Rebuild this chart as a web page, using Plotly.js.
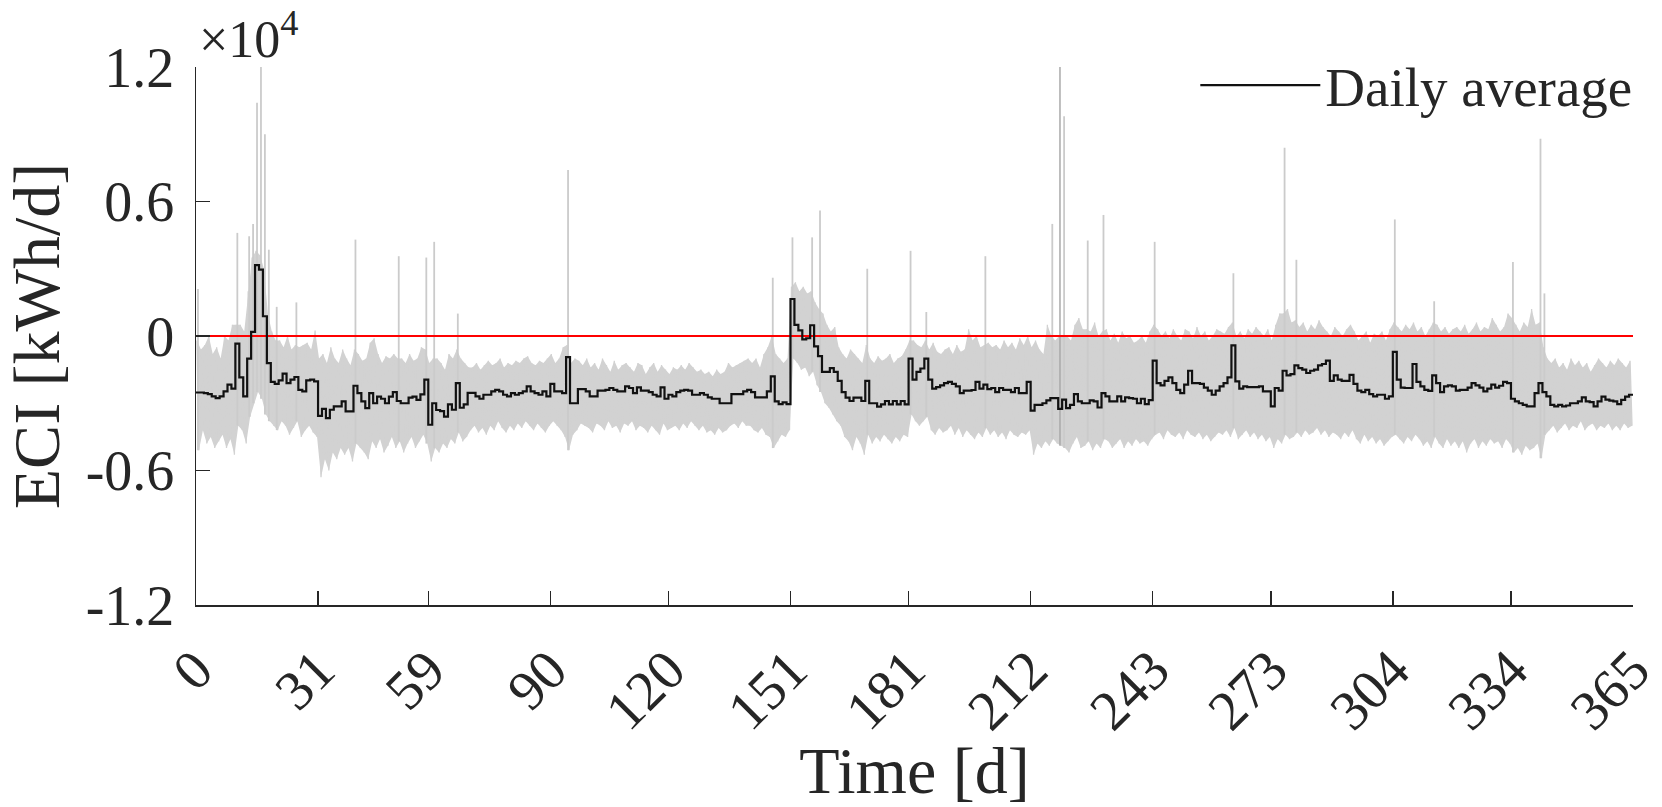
<!DOCTYPE html>
<html><head><meta charset="utf-8">
<script src="https://cdn.plot.ly/plotly-3.0.1.min.js"></script>
<style>html,body{margin:0;padding:0;background:#fff;}#chart{width:1662px;height:807px;}</style>
</head><body><div id="chart"></div>
<script>
// Daily average ECI (x10^4 kWh/d), one value per day 0..364
const dailyAvg = [
-0.252,-0.252,-0.255,-0.259,-0.269,-0.277,-0.269,-0.247,-0.217,-0.235,
-0.034,-0.185,-0.269,-0.101,0.018,0.316,0.296,0.088,-0.121,-0.205,
-0.214,-0.198,-0.168,-0.21,-0.195,-0.183,-0.24,-0.247,-0.198,-0.195,
-0.202,-0.356,-0.325,-0.366,-0.329,-0.314,-0.314,-0.292,-0.336,-0.336,
-0.222,-0.255,-0.292,-0.322,-0.255,-0.30,-0.27,-0.28,-0.30,-0.27,
-0.25,-0.29,-0.30,-0.30,-0.275,-0.27,-0.285,-0.26,-0.195,-0.396,
-0.30,-0.33,-0.335,-0.36,-0.305,-0.329,-0.21,-0.32,-0.305,-0.254,
-0.254,-0.269,-0.28,-0.262,-0.262,-0.247,-0.24,-0.247,-0.262,-0.269,
-0.255,-0.262,-0.255,-0.247,-0.225,-0.247,-0.255,-0.262,-0.247,-0.269,
-0.214,-0.247,-0.247,-0.255,-0.094,-0.30,-0.30,-0.237,-0.237,-0.247,
-0.269,-0.269,-0.244,-0.244,-0.24,-0.232,-0.24,-0.247,-0.247,-0.225,
-0.232,-0.255,-0.229,-0.244,-0.244,-0.25,-0.262,-0.269,-0.229,-0.28,
-0.262,-0.269,-0.25,-0.244,-0.24,-0.244,-0.262,-0.262,-0.255,-0.262,
-0.274,-0.28,-0.28,-0.30,-0.30,-0.30,-0.259,-0.259,-0.259,-0.247,
-0.24,-0.25,-0.274,-0.274,-0.274,-0.247,-0.18,-0.292,-0.304,-0.296,
-0.304,0.165,0.05,0.025,-0.015,-0.01,0.048,-0.046,-0.09,-0.16,
-0.16,-0.143,-0.16,-0.2,-0.25,-0.275,-0.29,-0.275,-0.275,-0.29,
-0.2,-0.30,-0.30,-0.315,-0.305,-0.29,-0.305,-0.29,-0.305,-0.29,
-0.305,-0.101,-0.195,-0.16,-0.145,-0.101,-0.195,-0.235,-0.228,-0.22,
-0.21,-0.205,-0.214,-0.225,-0.255,-0.244,-0.244,-0.241,-0.205,-0.235,
-0.217,-0.237,-0.232,-0.25,-0.232,-0.24,-0.24,-0.25,-0.232,-0.255,
-0.255,-0.205,-0.333,-0.307,-0.307,-0.30,-0.287,-0.277,-0.277,-0.325,
-0.284,-0.322,-0.307,-0.259,-0.292,-0.30,-0.30,-0.287,-0.292,-0.319,
-0.255,-0.269,-0.292,-0.292,-0.269,-0.292,-0.274,-0.277,-0.28,-0.30,
-0.28,-0.304,-0.286,-0.11,-0.21,-0.22,-0.20,-0.185,-0.21,-0.24,
-0.255,-0.217,-0.155,-0.21,-0.21,-0.214,-0.23,-0.244,-0.262,-0.244,
-0.225,-0.21,-0.185,-0.042,-0.202,-0.235,-0.225,-0.228,-0.228,-0.228,
-0.225,-0.247,-0.247,-0.314,-0.232,-0.244,-0.155,-0.176,-0.17,-0.131,
-0.143,-0.15,-0.165,-0.155,-0.15,-0.131,-0.125,-0.11,-0.2,-0.176,
-0.195,-0.2,-0.2,-0.173,-0.214,-0.244,-0.25,-0.24,-0.259,-0.269,
-0.262,-0.262,-0.28,-0.269,-0.071,-0.195,-0.23,-0.232,-0.232,-0.125,
-0.205,-0.225,-0.24,-0.245,-0.176,-0.21,-0.25,-0.225,-0.22,-0.225,
-0.244,-0.24,-0.24,-0.23,-0.21,-0.22,-0.23,-0.247,-0.235,-0.217,
-0.23,-0.222,-0.205,-0.21,-0.28,-0.292,-0.30,-0.307,-0.314,-0.314,
-0.255,-0.21,-0.25,-0.269,-0.307,-0.314,-0.307,-0.314,-0.31,-0.30,
-0.30,-0.292,-0.274,-0.292,-0.295,-0.314,-0.292,-0.27,-0.284,-0.288,
-0.292,-0.304,-0.285,-0.27,-0.262
];
// Upper edge of the bulk of sub-daily values, per day (x10^4 kWh/d)
const subDailyHigh = [
-0.02,-0.06,-0.04,0.0,-0.08,-0.05,-0.1,0.0,-0.02,0.05,
0.05,0.05,0.02,0.2,0.35,0.38,0.36,0.3,0.1,0.02,
-0.02,-0.02,-0.05,0.0,-0.06,-0.04,-0.05,-0.04,-0.03,-0.06,
0.025,-0.1,-0.08,-0.12,-0.05,-0.1,-0.12,-0.06,-0.1,-0.13,
-0.06,-0.08,-0.11,-0.1,-0.03,-0.01,-0.08,-0.12,-0.09,-0.1,
-0.08,-0.1,-0.1,-0.12,-0.08,-0.11,-0.1,-0.05,-0.06,-0.12,
-0.1,-0.1,-0.12,-0.15,-0.08,-0.1,-0.06,-0.1,-0.12,-0.14,
-0.14,-0.12,-0.15,-0.13,-0.11,-0.13,-0.12,-0.1,-0.14,-0.12,
-0.13,-0.11,-0.12,-0.1,-0.09,-0.12,-0.13,-0.11,-0.12,-0.1,
-0.08,-0.12,-0.1,-0.05,-0.04,-0.12,-0.1,-0.11,-0.13,-0.1,
-0.14,-0.12,-0.15,-0.1,-0.13,-0.16,-0.11,-0.15,-0.13,-0.12,
-0.14,-0.16,-0.12,-0.13,-0.17,-0.14,-0.12,-0.16,-0.13,-0.15,
-0.17,-0.14,-0.15,-0.13,-0.15,-0.12,-0.14,-0.16,-0.15,-0.17,
-0.16,-0.18,-0.15,-0.17,-0.16,-0.12,-0.14,-0.13,-0.12,-0.11,
-0.1,-0.12,-0.1,-0.14,-0.08,-0.05,0.0,-0.08,-0.1,-0.12,
-0.1,0.22,0.24,0.2,0.22,0.19,0.2,0.15,0.12,0.1,
0.05,0.02,0.04,-0.05,-0.08,-0.1,-0.06,-0.08,-0.1,-0.12,
-0.04,-0.1,-0.12,-0.09,-0.11,-0.1,-0.08,-0.12,-0.1,-0.09,
-0.06,-0.02,-0.02,-0.04,-0.05,-0.02,-0.06,-0.03,-0.07,-0.08,
-0.06,-0.05,-0.08,-0.04,-0.07,-0.06,0.03,-0.02,0.0,-0.05,
-0.04,-0.03,-0.05,-0.04,-0.06,-0.02,-0.05,-0.03,-0.06,-0.01,
-0.04,0.0,-0.05,-0.02,-0.06,-0.08,0.05,0.0,-0.02,0.0,
0.0,0.0,-0.02,0.05,0.08,0.03,0.03,0.02,0.06,0.0,
0.02,0.03,-0.02,0.01,-0.03,0.02,-0.01,0.0,-0.03,-0.02,
0.0,-0.03,0.02,0.05,0.03,0.0,0.02,-0.01,0.03,0.0,
-0.02,0.03,0.02,-0.01,0.04,0.0,0.02,-0.02,0.0,0.03,
0.02,0.01,0.04,0.06,0.0,0.02,-0.01,0.03,0.01,0.04,
0.02,0.0,0.03,-0.02,0.05,0.1,0.1,0.12,0.06,0.07,
0.04,0.06,0.02,0.05,0.03,0.07,0.04,0.02,0.0,0.04,
0.02,0.0,0.03,0.05,0.02,-0.02,0.0,0.02,-0.03,0.01,
0.0,0.02,-0.02,0.03,0.06,0.04,0.02,0.05,0.03,0.06,
0.02,0.04,0.0,0.03,0.06,0.05,0.02,0.04,0.01,0.03,
0.04,0.02,0.05,0.01,0.03,0.06,0.02,0.04,0.03,0.08,
0.05,0.02,0.04,0.1,0.08,0.05,0.02,0.06,0.04,0.12,
0.05,0.06,-0.05,-0.1,-0.12,-0.1,-0.14,-0.12,-0.15,-0.1,
-0.13,-0.11,-0.14,-0.12,-0.16,-0.13,-0.1,-0.12,-0.14,-0.11,
-0.13,-0.1,-0.12,-0.14,-0.11
];
// Lower edge of the sub-daily values, per day (x10^4 kWh/d)
const subDailyLow = [
-0.51,-0.42,-0.48,-0.45,-0.5,-0.47,-0.44,-0.5,-0.46,-0.53,
-0.4,-0.42,-0.48,-0.36,-0.3,-0.25,-0.28,-0.35,-0.38,-0.4,
-0.42,-0.38,-0.4,-0.44,-0.41,-0.38,-0.45,-0.42,-0.4,-0.43,
-0.45,-0.63,-0.55,-0.6,-0.52,-0.55,-0.5,-0.53,-0.5,-0.56,
-0.48,-0.5,-0.52,-0.55,-0.47,-0.5,-0.46,-0.52,-0.49,-0.45,
-0.5,-0.47,-0.52,-0.48,-0.45,-0.5,-0.47,-0.44,-0.48,-0.56,
-0.5,-0.52,-0.48,-0.5,-0.46,-0.48,-0.43,-0.47,-0.45,-0.42,
-0.4,-0.43,-0.41,-0.44,-0.4,-0.42,-0.38,-0.41,-0.43,-0.4,
-0.42,-0.39,-0.41,-0.38,-0.4,-0.42,-0.39,-0.41,-0.43,-0.4,
-0.38,-0.4,-0.42,-0.45,-0.51,-0.44,-0.42,-0.39,-0.4,-0.41,
-0.43,-0.39,-0.4,-0.42,-0.38,-0.41,-0.4,-0.43,-0.39,-0.4,
-0.38,-0.42,-0.4,-0.41,-0.43,-0.4,-0.42,-0.44,-0.39,-0.42,
-0.41,-0.4,-0.42,-0.39,-0.41,-0.38,-0.4,-0.42,-0.4,-0.43,
-0.42,-0.44,-0.41,-0.43,-0.42,-0.4,-0.39,-0.41,-0.38,-0.4,
-0.4,-0.42,-0.43,-0.41,-0.44,-0.45,-0.5,-0.47,-0.44,-0.45,
-0.42,-0.1,-0.12,-0.15,-0.14,-0.18,-0.16,-0.22,-0.25,-0.3,
-0.32,-0.35,-0.38,-0.4,-0.45,-0.47,-0.51,-0.45,-0.48,-0.53,
-0.44,-0.48,-0.45,-0.47,-0.44,-0.46,-0.48,-0.45,-0.47,-0.44,
-0.45,-0.35,-0.38,-0.4,-0.38,-0.36,-0.42,-0.44,-0.41,-0.43,
-0.42,-0.4,-0.44,-0.41,-0.45,-0.42,-0.44,-0.46,-0.43,-0.45,
-0.41,-0.44,-0.42,-0.45,-0.43,-0.46,-0.42,-0.44,-0.45,-0.43,
-0.44,-0.42,-0.53,-0.48,-0.5,-0.47,-0.49,-0.46,-0.48,-0.49,
-0.5,-0.52,-0.48,-0.45,-0.5,-0.49,-0.47,-0.51,-0.48,-0.5,
-0.46,-0.47,-0.5,-0.48,-0.46,-0.5,-0.47,-0.49,-0.46,-0.48,
-0.47,-0.49,-0.46,-0.44,-0.43,-0.46,-0.42,-0.44,-0.45,-0.43,
-0.46,-0.42,-0.44,-0.45,-0.43,-0.46,-0.44,-0.47,-0.45,-0.43,
-0.44,-0.42,-0.45,-0.41,-0.46,-0.44,-0.42,-0.45,-0.43,-0.46,
-0.44,-0.47,-0.45,-0.5,-0.46,-0.48,-0.44,-0.46,-0.45,-0.43,
-0.45,-0.42,-0.44,-0.43,-0.41,-0.44,-0.42,-0.45,-0.43,-0.44,
-0.46,-0.43,-0.45,-0.42,-0.46,-0.48,-0.44,-0.47,-0.45,-0.48,
-0.46,-0.49,-0.47,-0.45,-0.44,-0.46,-0.48,-0.45,-0.47,-0.44,
-0.46,-0.49,-0.47,-0.5,-0.45,-0.48,-0.5,-0.46,-0.49,-0.47,
-0.5,-0.47,-0.52,-0.48,-0.46,-0.5,-0.47,-0.49,-0.46,-0.48,
-0.47,-0.5,-0.46,-0.48,-0.52,-0.5,-0.53,-0.49,-0.51,-0.5,
-0.48,-0.545,-0.44,-0.42,-0.4,-0.43,-0.41,-0.39,-0.42,-0.4,
-0.41,-0.38,-0.42,-0.4,-0.39,-0.42,-0.4,-0.41,-0.39,-0.42,
-0.4,-0.42,-0.39,-0.41,-0.4
];
// Isolated sub-daily peaks: day and peak value (x10^4 kWh/d)
const peakDays = [0,10,13,14,15,16,17,18,20,25,40,51,58,60,66,94,146,151,156,158,170,181,185,200,217,220,226,230,243,263,276,279,304,314,334,341,342];
const peakVals = [0.21,0.46,0.445,0.5,1.04,1.25,0.9,0.385,0.13,0.15,0.43,0.356,0.35,0.42,0.1,0.74,0.26,0.44,0.44,0.56,0.3,0.38,0.107,0.356,0.5,0.98,0.426,0.54,0.42,0.28,0.84,0.34,0.52,0.155,0.33,0.88,0.19];
// Outlier hour on day 219 (drawn darker in the original)
const outlierDay = [219.45, 219.45];
const outlierVal = [-0.49, 1.3];
// Zero reference line
const refLineX = [0, 365];
const refLineY = [0, 0];
// Axis ticks
const xTickVals = [0,31,59,90,120,151,181,212,243,273,304,334,365];
const xTickText = ['0','31','59','90','120','151','181','212','243','273','304','334','365'];
const yTickVals = [-1.2,-0.6,0,0.6,1.2];
const yTickText = ['-1.2','-0.6','0','0.6','1.2'];

const FONT = '"Liberation Serif", "Times New Roman", serif';
const INK = '#262626';
const GRAY = '#d2d2d2';

const hx = [], hy = [], lx = [], ly = [], zx = [], zy = [];
for (let d = 0; d < dailyAvg.length; d++) {
  hx.push(d + 0.25); hy.push(subDailyHigh[d]);
  lx.push(d + 0.75); ly.push(subDailyLow[d]);
  zx.push(d + 0.25, d + 0.75); zy.push(subDailyHigh[d], subDailyLow[d]);
}
const px = [], py = [];
peakDays.forEach((d, i) => { px.push(d + 0.5, d + 0.5, null); py.push(subDailyLow[d], peakVals[i], null); });
const sx = [], sy = [];
for (let d = 0; d < dailyAvg.length; d++) { sx.push(d); sy.push(dailyAvg[d]); }
sx.push(dailyAvg.length); sy.push(dailyAvg[dailyAvg.length - 1]);

const traces = [
  {x: hx, y: hy, type: 'scatter', mode: 'lines', line: {color: GRAY, width: 0}, showlegend: false, hoverinfo: 'skip'},
  {x: lx, y: ly, type: 'scatter', mode: 'lines', line: {color: GRAY, width: 0}, fill: 'tonexty', fillcolor: GRAY, showlegend: false, hoverinfo: 'skip'},
  {x: zx, y: zy, type: 'scatter', mode: 'lines', line: {color: GRAY, width: 1.3}, showlegend: false, hoverinfo: 'skip'},
  {x: px, y: py, type: 'scatter', mode: 'lines', line: {color: '#cbcbcb', width: 1.8}, connectgaps: false, showlegend: false, hoverinfo: 'skip'},
  {x: outlierDay, y: outlierVal, type: 'scatter', mode: 'lines', line: {color: '#a9a9a9', width: 1.5}, showlegend: false, hoverinfo: 'skip'},
  {x: refLineX, y: refLineY, type: 'scatter', mode: 'lines', line: {color: '#ff0000', width: 2}, showlegend: false, hoverinfo: 'skip'},
  {x: sx, y: sy, type: 'scatter', mode: 'lines', line: {color: '#111111', width: 2.2, shape: 'hv'}, name: 'Daily average', showlegend: true}
];

const layout = {
  width: 1662, height: 807,
  margin: {l: 196, r: 29, t: 67, b: 202, pad: 0},
  paper_bgcolor: '#ffffff', plot_bgcolor: '#ffffff',
  font: {family: FONT, color: INK, size: 54},
  showlegend: true,
  legend: {x: 1.003, xanchor: 'right', y: 1.045, yanchor: 'top', bgcolor: 'rgba(0,0,0,0)', borderwidth: 0,
           font: {family: FONT, size: 55, color: INK}, itemwidth: 120, tracegroupgap: 0},
  xaxis: {
    range: [0, 365], tickmode: 'array', tickvals: xTickVals, ticktext: xTickText, tickangle: -45,
    ticks: 'inside', ticklen: 14, tickwidth: 1.5, tickcolor: INK,
    showline: true, linecolor: INK, linewidth: 1.5, showgrid: false, zeroline: false,
    tickfont: {family: FONT, size: 56, color: INK}, ticklabelstandoff: 8,
    title: {text: 'Time [d]', font: {family: FONT, size: 66, color: INK}, standoff: 6},
    automargin: false, fixedrange: true
  },
  yaxis: {
    range: [-1.2, 1.2], tickmode: 'array', tickvals: yTickVals, ticktext: yTickText,
    ticks: 'inside', ticklen: 14, tickwidth: 1.5, tickcolor: INK,
    showline: true, linecolor: INK, linewidth: 1.5, showgrid: false, zeroline: false,
    tickfont: {family: FONT, size: 56, color: INK}, ticklabelstandoff: 9,
    title: {text: 'ECI [kWh/d]', font: {family: FONT, size: 66, color: INK}, standoff: 36},
    automargin: false, fixedrange: true
  },
  annotations: [
    {xref: 'paper', yref: 'paper', x: 0, y: 1, xanchor: 'left', yanchor: 'bottom', xshift: 1, yshift: -3,
     showarrow: false, text: '×10<sup>4</sup>', font: {family: FONT, size: 52, color: INK}}
  ]
};

Plotly.newPlot('chart', traces, layout, {staticPlot: true, displayModeBar: false});
</script>
</body></html>
